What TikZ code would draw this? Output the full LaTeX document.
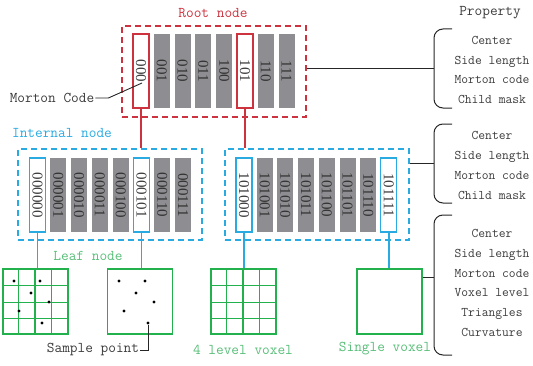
\documentclass[tikz,border=0pt]{standalone}
\usepackage{fontspec}
\usepackage{graphicx}
\setmainfont{Liberation Serif}
\usetikzlibrary{calc}

\definecolor{rootred}{RGB}{204,51,63}
\definecolor{nodeblue}{RGB}{41,171,226}
\definecolor{leafgreen}{RGB}{34,177,76}
\definecolor{labelgreen}{RGB}{88,190,120}
\definecolor{cellgray}{RGB}{142,142,146}
\definecolor{textgray}{RGB}{60,60,60}

\newcommand{\bits}[1]{\rotatebox{-90}{#1}}

\begin{document}
\begin{tikzpicture}[x=1pt,y=1pt,
	cell/.style={draw=#1,line width=1.1pt,fill=white,minimum width=16pt,minimum height=74pt,inner sep=0pt,font=\fontsize{15}{15}\selectfont,text=textgray},
	gcell/.style={fill=cellgray,minimum width=16pt,minimum height=74pt,inner sep=0pt,font=\fontsize{15}{15}\selectfont,text=black!80},
	levelbox/.style={draw=#1,line width=1.3pt,dash pattern=on 6pt off 4pt,minimum width=184pt,minimum height=91pt,inner sep=0pt},
	voxel/.style={draw=leafgreen,line width=1.2pt,minimum size=65pt,inner sep=0pt},
	dot/.style={circle,fill=black,inner sep=0pt,minimum size=3.4pt},
	caption/.style={font=\ttfamily\fontsize{14.9}{15}\selectfont,text=#1,inner sep=1pt},
	proplist/.style={align=center,font=\ttfamily\fontsize{13.2}{19.8}\selectfont,text=textgray},
	bracket/.style={draw=black!85,line width=1pt,rounded corners=9pt}]
	\useasboundingbox (0,0) rectangle (533,365);

	% dashed boxes of the three octree levels
	\node[levelbox=rootred] (root) at (214,293.5) {};
	\node[levelbox=nodeblue] (intL) at (110,170.5) {};
	\node[levelbox=nodeblue] (intR) at (317,170.5) {};
	\node[caption=rootred] at (213,352) {Root node};
	\node[caption=nodeblue] at (62,232) {Internal node};

	% cells of the root node
	\node[cell=rootred] (r000) at (141,294) {\bits{000}};
	\node[gcell] (r001) at (161.8,294) {\bits{001}};
	\node[gcell] (r010) at (182.6,294) {\bits{010}};
	\node[gcell] (r011) at (203.4,294) {\bits{011}};
	\node[gcell] (r100) at (224.2,294) {\bits{100}};
	\node[cell=rootred] (r101) at (245,294) {\bits{101}};
	\node[gcell] (r110) at (265.8,294) {\bits{110}};
	\node[gcell] (r111) at (286.6,294) {\bits{111}};

	% cells of the left internal node
	\node[cell=nodeblue] (i000000) at (37.5,170) {\bits{000000}};
	\node[gcell] (i000001) at (58.3,170) {\bits{000001}};
	\node[gcell] (i000010) at (79.1,170) {\bits{000010}};
	\node[gcell] (i000011) at (99.9,170) {\bits{000011}};
	\node[gcell] (i000100) at (120.7,170) {\bits{000100}};
	\node[cell=nodeblue] (i000101) at (141.5,170) {\bits{000101}};
	\node[gcell] (i000110) at (162.3,170) {\bits{000110}};
	\node[gcell] (i000111) at (183.1,170) {\bits{000111}};

	% cells of the right internal node
	\node[cell=nodeblue] (j101000) at (244,170) {\bits{101000}};
	\node[gcell] (j101001) at (264.7,170) {\bits{101001}};
	\node[gcell] (j101010) at (285.4,170) {\bits{101010}};
	\node[gcell] (j101011) at (306.1,170) {\bits{101011}};
	\node[gcell] (j101100) at (326.8,170) {\bits{101100}};
	\node[gcell] (j101101) at (347.5,170) {\bits{101101}};
	\node[gcell] (j101110) at (368.2,170) {\bits{101110}};
	\node[cell=nodeblue] (j101111) at (388.9,170) {\bits{101111}};

	% leaf voxels
	\node[voxel] (leafA) at (35.5,63.5) {};
	\node[voxel] (leafB) at (140,63.5) {};
	\node[voxel] (leafC) at (243.5,63.5) {};
	\node[voxel] (leafD) at (389.5,63.5) {};
	\foreach \g in {leafA,leafC}
		\foreach \k in {1,2,3} {
			\draw[leafgreen,line width=1.2pt] ($(\g.south west)+(16.25*\k,0)$) -- ($(\g.north west)+(16.25*\k,0)$);
			\draw[leafgreen,line width=1.2pt] ($(\g.south west)+(0,16.25*\k)$) -- ($(\g.south east)+(0,16.25*\k)$);
		}
	\node[caption=labelgreen] at (88,109) {Leaf node};
	\node[caption=labelgreen] at (243,15) {4 level voxel};
	\node[caption=labelgreen] at (385,16) {Single voxel};

	% sample points
	\node[dot] (a1) at (14,84) {};
	\node[dot] (a2) at (40,84) {};
	\node[dot] (a3) at (31,72) {};
	\node[dot] (a4) at (49,63) {};
	\node[dot] (a5) at (19,54) {};
	\node[dot] (a6) at (42,42) {};
	\node[dot] (b1) at (119,84) {};
	\node[dot] (b2) at (145,84) {};
	\node[dot] (b3) at (136,72) {};
	\node[dot] (b4) at (154,63) {};
	\node[dot] (b5) at (124,54) {};
	\node[dot] (b6) at (148,42) {};

	% parent to child links
	\draw[rootred,line width=1.2pt] (r000.south) -- (r000.south |- intL.north);
	\draw[rootred,line width=1.2pt] (r101.south) -- (r101.south |- intR.north);
	\draw[nodeblue,line width=1.2pt] (i000000.south) -- (i000000.south |- leafA.north);
	\draw[nodeblue,line width=1.2pt] (i000101.south) -- (i000101.south |- leafB.north);
	\draw[nodeblue,line width=1.2pt] (j101000.south) -- (j101000.south |- leafC.north);
	\draw[nodeblue,line width=1.2pt] (j101111.south) -- (j101111.south |- leafD.north);

	% pointers to the morton code and a sample point
	\node[caption=textgray] (mcode) at (52,267) {Morton Code};
	\coordinate (mtip) at (142,282);
	\draw[black!85,line width=0.9pt] (mcode.east) -- ++(13,0) -- (mtip);
	\node[caption=textgray] (sample) at (93,15) {Sample point};
	\draw[black!85,line width=0.9pt] (sample.east) -| (b6.south);

	% property brackets
	\node[caption=textgray] at (490,352) {Property};
	\coordinate (brA) at (434,296);
	\coordinate (brB) at (434,202);
	\coordinate (brC) at (434,88);
	\draw[bracket] ($(brA)+(18,40)$) -- ($(brA)+(0,40)$) -- ($(brA)+(0,-39)$) -- ($(brA)+(18,-39)$);
	\draw[bracket] ($(brB)+(18,39)$) -- ($(brB)+(0,39)$) -- ($(brB)+(0,-40)$) -- ($(brB)+(18,-40)$);
	\draw[bracket] ($(brC)+(18,62)$) -- ($(brC)+(0,62)$) -- ($(brC)+(0,-78)$) -- ($(brC)+(18,-78)$);
	\draw[black!85,line width=1pt] (brA -| root.east) -- (brA);
	\draw[black!85,line width=1pt] (brB -| intR.east) -- (brB);
	\draw[black!85,line width=1pt] (brC -| leafD.east) -- (brC);
	\node[proplist] (propA) at (492,295) {Center\\Side length\\Morton code\\Child mask};
	\node[proplist] (propB) at (492,199.5) {Center\\Side length\\Morton code\\Child mask};
	\node[proplist] (propC) at (492,82) {Center\\Side length\\Morton code\\Voxel level\\Triangles\\Curvature};
\end{tikzpicture}
\end{document}
